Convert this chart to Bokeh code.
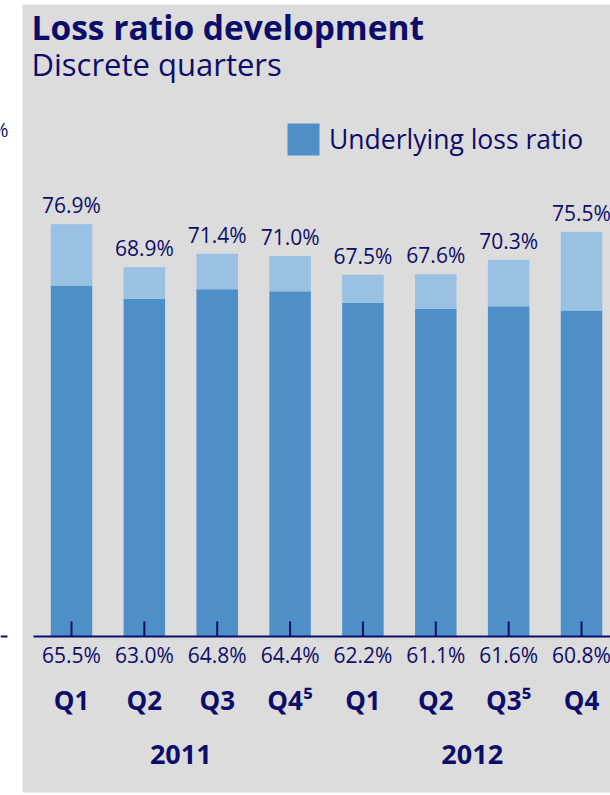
from bokeh.plotting import figure
from bokeh.models import Range1d, Legend, LegendItem, ColumnDataSource, BoxAnnotation
from bokeh.core.properties import value
from bokeh.embed import file_html
from bokeh.resources import INLINE

# ---- data ----
quarters = ["Q1", "Q2", "Q3", "Q4\u2075", "Q1", "Q2", "Q3\u2075", "Q4"]
years = ["2011", "2012"]
total_loss_ratio = [76.9, 68.9, 71.4, 71.0, 67.5, 67.6, 70.3, 75.5]
underlying_loss_ratio = [65.5, 63.0, 64.8, 64.4, 62.2, 61.1, 61.6, 60.8]
title_text = "Loss ratio development"
subtitle_text = "Discrete quarters"
legend_text = "Underlying loss ratio"

# ---- styling / layout constants ----
NAVY = "#0c0c6a"
DARK = "#4f8fc8"
LIGHT = "#98c1e3"
PANEL = "#dcdcdc"
FONT_NAME = "Open Sans"
FONT = value(FONT_NAME)

W, H = 610, 795
PXX = 72.86       # px per category step
PXY = 5.36        # px per percentage point
X0_PX = 71        # canvas px of first category
BASE_PX = 636     # canvas px of 0 %
SHIFT = 0.39      # baseline correction (em)

x_start = (0 - X0_PX) / PXX
x_end = x_start + W / PXX
y_end = BASE_PX / PXY
y_start = y_end - H / PXY


def px2x(px):
    return (px - X0_PX) / PXX


def py2y(py, fs=0.0):
    return (BASE_PX - py + SHIFT * fs) / PXY


FS_VAL, FS_Q, FS_YEAR, FS_T, FS_ST = 21, 26, 27, 33.5, 31

xs = list(range(len(quarters)))
n = len(xs)
source = ColumnDataSource(dict(
    x=xs,
    total=total_loss_ratio,
    under=underlying_loss_ratio,
    total_lbl=[f"{v:.1f}%" for v in total_loss_ratio],
    under_lbl=[f"{v:.1f}%" for v in underlying_loss_ratio],
    q=quarters,
    total_lbl_y=[t + (11 + SHIFT * FS_VAL) / PXY for t in total_loss_ratio],
    under_lbl_y=[py2y(663, FS_VAL)] * n,
    q_y=[py2y(710, FS_Q)] * n,
    tick_top=[15 / PXY] * n,
))

p = figure(width=W, height=H, x_range=Range1d(x_start, x_end),
           y_range=Range1d(y_start, y_end), output_backend="svg",
           toolbar_location=None, title=None,
           x_axis_location=None, y_axis_location=None,
           min_border=0, background_fill_color="white",
           border_fill_color="white", outline_line_color=None)
p.grid.visible = False

# grey panel
p.add_layout(BoxAnnotation(left=px2x(22), right=x_end + 1, top=py2y(4), bottom=py2y(792),
                           fill_color=PANEL, fill_alpha=1, line_color=None,
                           level="underlay", editable=False))

# cropped fragments of the neighbouring chart at the far left
p.text(x=[px2x(8)], y=[py2y(137, 20)], text=["%"], text_font=FONT, text_font_size="20px",
       text_color=NAVY, text_align="right", text_baseline="alphabetic")
p.segment(x0=[x_start], y0=[0], x1=[px2x(7)], y1=[0], line_color=NAVY, line_width=2)

bw = 41.5 / PXX
r_dark = p.vbar(x="x", width=bw, bottom=0, top="under", source=source,
                fill_color=DARK, line_color=None)
p.vbar(x="x", width=bw, bottom="under", top="total", source=source,
       fill_color=LIGHT, line_color=None)

# axis line and inward ticks
p.segment(x0=[px2x(33)], y0=[0], x1=[x_end], y1=[0], line_color=NAVY, line_width=2)
p.segment(x0="x", y0=0, x1="x", y1="tick_top", source=source, line_color=NAVY, line_width=2)

# value labels
p.text(x="x", y="total_lbl_y", text="total_lbl", source=source,
       text_font=FONT, text_font_size=f"{FS_VAL}px", text_color=NAVY,
       text_align="center", text_baseline="alphabetic")
p.text(x="x", y="under_lbl_y", text="under_lbl", source=source,
       text_font=FONT, text_font_size=f"{FS_VAL}px", text_color=NAVY,
       text_align="center", text_baseline="alphabetic")
p.text(x="x", y="q_y", text="q", source=source,
       text_font=FONT, text_font_size=f"{FS_Q}px", text_font_style="bold",
       text_color=NAVY, text_align="center", text_baseline="alphabetic")
year_x = [(xs[1] + xs[2]) / 2, (xs[5] + xs[6]) / 2]
p.text(x=year_x, y=[py2y(765, FS_YEAR)] * 2, text=years,
       text_font=FONT, text_font_size=f"{FS_YEAR}px", text_font_style="bold",
       text_color=NAVY, text_align="center", text_baseline="alphabetic")

# titles
p.text(x=[px2x(31)], y=[py2y(40, FS_T)], text=[title_text], text_font=FONT,
       text_font_size=f"{FS_T}px", text_font_style="bold", text_color=NAVY,
       text_baseline="alphabetic")
p.text(x=[px2x(31)], y=[py2y(76, FS_ST)], text=[subtitle_text], text_font=FONT,
       text_font_size=f"{FS_ST}px", text_color=NAVY, text_baseline="alphabetic")

legend = Legend(items=[LegendItem(label=legend_text, renderers=[r_dark])],
                location=(283, H - 159), background_fill_alpha=0,
                border_line_color=None, glyph_width=40, glyph_height=40,
                label_text_font=FONT_NAME, label_text_font_size="26.5px",
                label_text_color=NAVY, padding=0, margin=0,
                label_standoff=6, spacing=0)
p.add_layout(legend)

open("out.html", "w").write(file_html(p, INLINE))
